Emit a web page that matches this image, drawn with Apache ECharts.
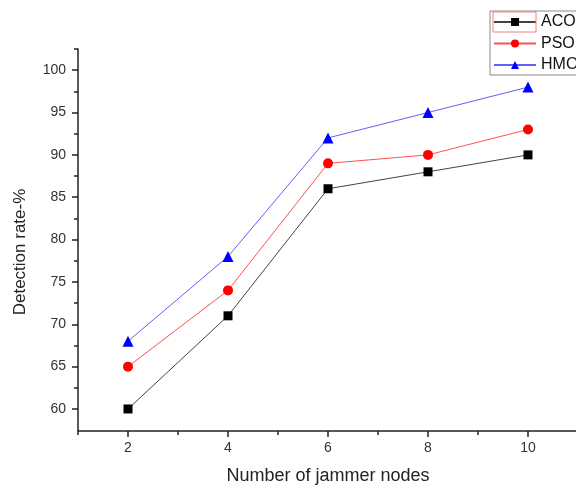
<!DOCTYPE html>
<html><head><meta charset="utf-8">
<script src="https://cdn.jsdelivr.net/npm/echarts@6/dist/echarts.min.js"></script>
<style>html,body{margin:0;padding:0;background:#fff}#c{width:576px;height:485px}</style>
</head><body><div id="c"></div>
<script>
const nodes = [2, 4, 6, 8, 10];
const aco = [60, 71, 86, 88, 90];
const pso = [65, 74, 89, 90, 93];
const hmo = [68, 78, 92, 95, 98];
const xMajor = [2, 4, 6, 8, 10];
const xMinor = [1, 3, 5, 7, 9, 11];
const yMajor = [60, 65, 70, 75, 80, 85, 90, 95, 100];
const yMinor = [62.5, 67.5, 72.5, 77.5, 82.5, 87.5, 92.5, 97.5, 102.5];

const font = 'Liberation Sans, Arial, sans-serif';
const axisColor = '#222';
const chart = echarts.init(document.getElementById('c'));
const pairs = arr => nodes.map((n, i) => [n, arr[i]]);
const X = {min: 1, max: 11, type: 'value'};
const Y = {min: 57.4, max: 102.5, type: 'value'};
chart.setOption({
  animation: false,
  backgroundColor: '#fff',
  grid: {left: 78, top: 49, width: 500, bottom: 54, containLabel: false, outerBoundsMode: 'none'},
  xAxis: [
    Object.assign({}, X, {
      name: 'Number of jammer nodes', nameLocation: 'middle', nameGap: 36,
      nameTextStyle: {fontFamily: font, fontSize: 18, color: '#222'},
      axisLine: {lineStyle: {color: axisColor, width: 1.5}},
      axisTick: {customValues: xMajor, length: 6, lineStyle: {color: axisColor, width: 1.5}},
      axisLabel: {customValues: xMajor, fontFamily: font, fontSize: 14, color: '#333', margin: 10},
      splitLine: {show: false}
    }),
    Object.assign({}, X, {
      position: 'bottom',
      axisLine: {show: false},
      axisTick: {customValues: xMinor, length: 4, lineStyle: {color: axisColor, width: 1.5}},
      axisLabel: {show: false},
      splitLine: {show: false}
    })
  ],
  yAxis: [
    Object.assign({}, Y, {
      name: 'Detection rate-%', nameLocation: 'middle', nameGap: 49,
      nameTextStyle: {fontFamily: font, fontSize: 17, color: '#222', padding: [0, 0, 0, -24]},
      axisLine: {show: true, lineStyle: {color: axisColor, width: 1.5}},
      axisTick: {show: true, customValues: yMajor, length: 6, lineStyle: {color: axisColor, width: 1.5}},
      axisLabel: {customValues: yMajor, fontFamily: font, fontSize: 14, color: '#333', margin: 12},
      splitLine: {show: false}
    }),
    Object.assign({}, Y, {
      position: 'left',
      axisLine: {show: false},
      axisTick: {show: true, customValues: yMinor, length: 4, lineStyle: {color: axisColor, width: 1.5}},
      axisLabel: {show: false},
      splitLine: {show: false}
    })
  ],
  legend: {
    orient: 'vertical', left: 490, top: 11,
    itemWidth: 42, itemHeight: 10, itemGap: 5.5,
    padding: [3, 60, 2, 3],
    borderColor: '#888', borderWidth: 1,
    textStyle: {fontFamily: font, fontSize: 16, color: '#111'},
    data: ['ACO', 'PSO', 'HMO']
  },
  graphic: [{
    type: 'rect', shape: {x: 493, y: 12, width: 43, height: 20},
    style: {fill: 'none', stroke: '#f08080', lineWidth: 1}, z: 100
  }],
  series: [
    {name: 'ACO', type: 'line', data: pairs(aco), symbol: 'rect', symbolSize: 9,
     itemStyle: {color: '#000'}, lineStyle: {color: '#444', width: 1}},
    {name: 'PSO', type: 'line', data: pairs(pso), symbol: 'circle', symbolSize: 10,
     itemStyle: {color: '#ff0000'}, lineStyle: {color: '#ff5050', width: 1}},
    {name: 'HMO', type: 'line', data: pairs(hmo), symbol: 'triangle', symbolSize: 11,
     itemStyle: {color: '#0000ff'}, lineStyle: {color: '#6060ff', width: 1}}
  ]
});
</script></body></html>
